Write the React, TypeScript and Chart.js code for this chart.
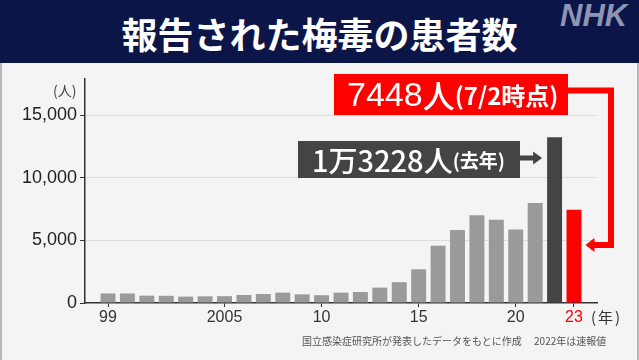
import React, { useEffect, useRef } from "react";
import { Chart, registerables } from "chart.js";

Chart.register(...registerables);

// ---- data ----
const years = [
  1999, 2000, 2001, 2002, 2003, 2004, 2005, 2006, 2007, 2008, 2009, 2010,
  2011, 2012, 2013, 2014, 2015, 2016, 2017, 2018, 2019, 2020, 2021, 2022, 2023,
];
const patients = [
  759, 759, 585, 575, 509, 533, 543, 637, 719, 827, 691, 621,
  827, 875, 1228, 1661, 2690, 4575, 5826, 7007, 6642, 5867, 7978, 13228, 7448,
];
const tickYears = [1999, 2005, 2010, 2015, 2020, 2023];
const tickLabels = ["99", "2005", "10", "15", "20", "23"];
const yTicks = [0, 5000, 10000, 15000];
const lastYearLabel = "1万3228人";
const thisYearLabel = "7448人";

const GRAY = "#9a9a9a";
const DARK = "#444444";
const RED = "#ff0000";

const barColors = years.map((y) => (y === 2023 ? RED : y === 2022 ? DARK : GRAY));

const connectorPlugin = {
  id: "connectors",
  afterDatasetsDraw(chart: any) {
    const meta = chart.getDatasetMeta(0);
    const bars = meta.data;
    const ctx = chart.ctx;
    const red = bars[years.indexOf(2023)];
    const dark = bars[years.indexOf(2022)];
    ctx.save();
    // red connector
    const redRight = red.x + red.width / 2;
    const tipX = redRight + 4;
    const yArrow = 245;
    ctx.strokeStyle = RED;
    ctx.lineWidth = 6;
    ctx.lineJoin = "miter";
    ctx.beginPath();
    ctx.moveTo(566, 90.5);
    ctx.lineTo(611, 90.5);
    ctx.lineTo(611, yArrow);
    ctx.lineTo(tipX + 7, yArrow);
    ctx.stroke();
    ctx.fillStyle = RED;
    ctx.beginPath();
    ctx.moveTo(tipX, yArrow);
    ctx.lineTo(tipX + 9, yArrow - 7);
    ctx.lineTo(tipX + 9, yArrow + 7);
    ctx.closePath();
    ctx.fill();
    // dark arrow
    const darkLeft = dark.x - dark.width / 2;
    const dTip = darkLeft - 5;
    const yD = 158;
    ctx.strokeStyle = DARK;
    ctx.lineWidth = 5;
    ctx.beginPath();
    ctx.moveTo(518, yD);
    ctx.lineTo(dTip - 6, yD);
    ctx.stroke();
    ctx.fillStyle = DARK;
    ctx.beginPath();
    ctx.moveTo(dTip, yD);
    ctx.lineTo(dTip - 9, yD - 6.5);
    ctx.lineTo(dTip - 9, yD + 6.5);
    ctx.closePath();
    ctx.fill();
    ctx.restore();
  },
};

export default function App() {
  const canvasRef = useRef<HTMLCanvasElement | null>(null);

  useEffect(() => {
    const canvas = canvasRef.current;
    if (!canvas) return;
    const pxPerYear = 466 / 24;
    const chart = new Chart(canvas, {
      type: "bar",
      data: {
        datasets: [
          {
            data: years.map((y, i) => ({ x: y, y: patients[i] })),
            backgroundColor: barColors,
            borderWidth: 0,
            categoryPercentage: 1,
            barPercentage: 0.77,
          },
        ],
      },
      options: {
        animation: false,
        responsive: false,
        maintainAspectRatio: false,
        devicePixelRatio: 1,
        layout: { padding: { top: 79, right: 42, left: 0, bottom: 0 } },
        plugins: { legend: { display: false }, tooltip: { enabled: false } },
        scales: {
          x: {
            type: "linear",
            offset: false,
            min: 1999 - 23 / pxPerYear,
            max: 2023 + 23 / pxPerYear,
            afterBuildTicks: (scale: any) => {
              scale.ticks = tickYears.map((v) => ({ value: v }));
            },
            afterFit: (scale: any) => {
              scale.height = 57;
            },
            grid: {
              display: true,
              offset: false,
              drawOnChartArea: false,
              drawTicks: true,
              tickLength: 4,
              tickColor: "#333",
            },
            border: { display: true, color: "#333", width: 1.5 },
            ticks: {
              autoSkip: false,
              maxRotation: 0,
              padding: 1,
              font: { family: "'Liberation Sans', Arial, sans-serif", size: 16 },
              color: (c: any) => (c.tick && c.tick.value === 2023 ? RED : "#333"),
              callback: (v: any) => {
                const i = tickYears.indexOf(Number(v));
                return i >= 0 ? tickLabels[i] : "";
              },
            },
          },
          y: {
            min: 0,
            max: (224 * 15000) / 188,
            afterBuildTicks: (scale: any) => {
              scale.ticks = yTicks.map((v) => ({ value: v }));
            },
            afterFit: (scale: any) => {
              scale.width = 85;
            },
            grid: {
              color: (c: any) => (c.tick && c.tick.value === 0 ? "rgba(0,0,0,0)" : "#dcdcdc"),
              tickColor: "#333",
              tickLength: 5,
              lineWidth: 1,
            },
            border: { display: true, color: "#333", width: 1.5 },
            ticks: {
              padding: 3,
              font: { family: "'Liberation Sans', Arial, sans-serif", size: 18 },
              color: "#222",
              callback: (v: any) => Number(v).toLocaleString("en-US"),
            },
          },
        },
      },
      plugins: [connectorPlugin],
    });
    return () => chart.destroy();
  }, []);

  const jp = "'Noto Sans CJK JP', 'Noto Sans', sans-serif";

  return (
    <div
      style={{
        position: "fixed",
        left: 0,
        top: 0,
        width: 639,
        height: 360,
        overflow: "hidden",
        background: "#f4f4f4",
        fontFamily: jp,
      }}
    >
      {/* frame edges */}
      <div style={{ position: "absolute", left: 0, top: 63, width: 2, height: 297, background: "#b4b6c0" }} />
      <div style={{ position: "absolute", right: 0, top: 63, width: 2, height: 297, background: "#b4b6c0" }} />
      {/* banner */}
      <div
        style={{
          position: "absolute",
          left: 0,
          top: 0,
          width: 639,
          height: 63,
          background: "#0c1547",
          color: "#fff",
          fontWeight: 700,
          fontSize: 36,
          lineHeight: "66px",
          textAlign: "center",
          whiteSpace: "nowrap",
        }}
      >
        報告された梅毒の患者数
      </div>
      <div
        style={{
          position: "absolute",
          left: 560,
          top: 0,
          fontFamily: "'Liberation Sans', Arial, sans-serif",
          fontStyle: "italic",
          fontWeight: 700,
          fontSize: 31,
          lineHeight: "32px",
          color: "#8e94b4",
          letterSpacing: 0,
        }}
      >
        NHK
      </div>
      <canvas
        ref={canvasRef}
        width={639}
        height={360}
        style={{ position: "absolute", left: 0, top: 0, width: 639, height: 360 }}
      />
      {/* axis units */}
      <div style={{ position: "absolute", left: 53, top: 82, fontSize: 14, lineHeight: "16px", color: "#444" }}>
        (人)
      </div>
      <div
        style={{
          position: "absolute",
          left: 591,
          top: 308,
          fontSize: 15,
          lineHeight: "18px",
          color: "#333",
          letterSpacing: 2,
        }}
      >
        (年)
      </div>
      {/* red label */}
      <div
        style={{
          position: "absolute",
          left: 334,
          top: 74,
          width: 234,
          height: 41,
          background: RED,
          color: "#fff",
          display: "flex",
          alignItems: "center",
          paddingLeft: 13,
          boxSizing: "border-box",
          whiteSpace: "nowrap",
        }}
      >
        <span style={{ fontSize: 34, fontWeight: 500, fontFamily: "'Liberation Sans', Arial, sans-serif", lineHeight: "41px" }}>
          {thisYearLabel.replace("人", "")}
        </span>
        <span style={{ fontSize: 32, fontWeight: 500, lineHeight: "41px" }}>人</span>
        <span style={{ fontSize: 24, fontWeight: 700, lineHeight: "41px" }}>(7/2時点)</span>
      </div>
      {/* dark label */}
      <div
        style={{
          position: "absolute",
          left: 298,
          top: 141,
          width: 222,
          height: 37,
          background: DARK,
          color: "#fff",
          display: "flex",
          alignItems: "center",
          paddingLeft: 14,
          boxSizing: "border-box",
          whiteSpace: "nowrap",
        }}
      >
        <span style={{ fontSize: 29, fontWeight: 500, lineHeight: "37px" }}>{lastYearLabel}</span>
        <span style={{ fontSize: 19, fontWeight: 700, lineHeight: "37px" }}>(去年)</span>
      </div>
      {/* footnote */}
      <div
        style={{
          position: "absolute",
          left: 302,
          top: 334,
          fontSize: 10,
          lineHeight: "14px",
          color: "#555",
          whiteSpace: "nowrap",
        }}
      >
        国立感染症研究所が発表したデータをもとに作成　 2022年は速報値
      </div>
    </div>
  );
}
